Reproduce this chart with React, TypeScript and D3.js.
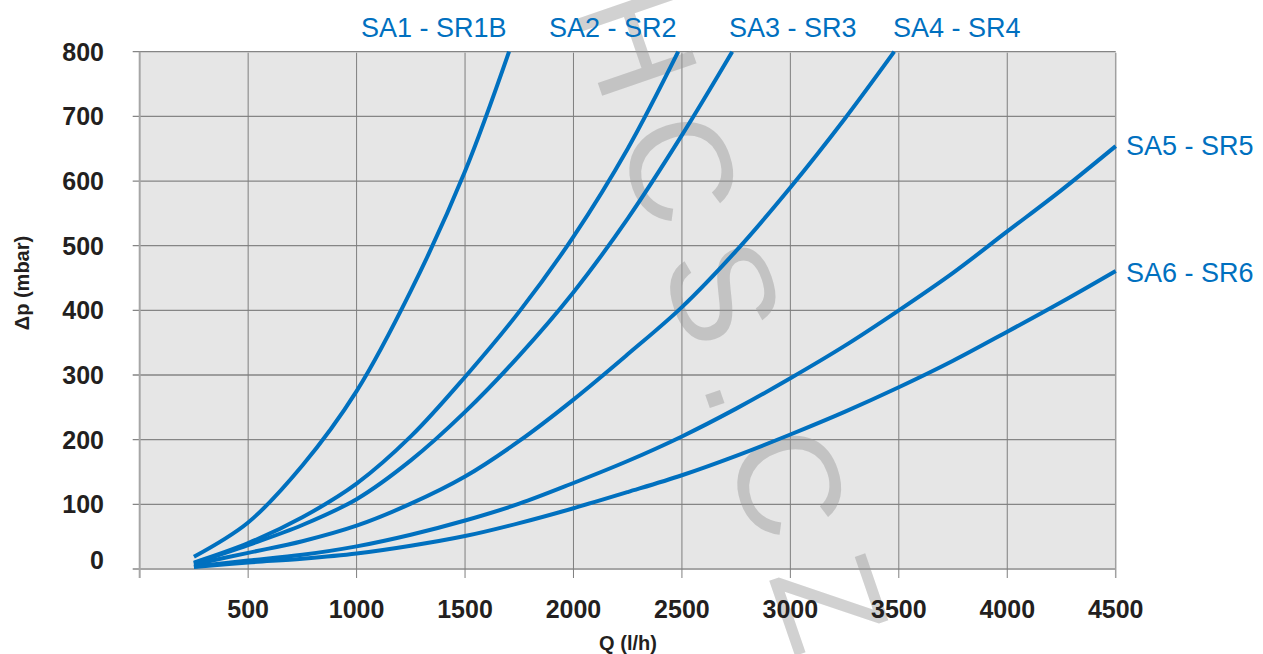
import React, { useEffect, useRef } from 'react';
import * as d3 from 'd3';

// Q (l/h) vs Δp (mbar)
const SERIES_NAMES = ['SA1 - SR1B', 'SA2 - SR2', 'SA3 - SR3', 'SA4 - SR4', 'SA5 - SR5', 'SA6 - SR6'];

const SA1: [number, number][] = [[250, 19], [500, 72], [750, 160], [1000, 275], [1250, 430], [1500, 615], [1703, 800]];
const SA2: [number, number][] = [[250, 10], [500, 40], [750, 80], [1000, 132], [1250, 205], [1500, 297], [1750, 398], [2000, 514], [2250, 650], [2483, 800]];
const SA3: [number, number][] = [[250, 9], [500, 37], [750, 68], [1000, 108], [1250, 168], [1500, 243], [1750, 330], [2000, 428], [2250, 542], [2500, 671], [2732, 800]];
const SA4: [number, number][] = [[250, 7], [500, 25], [750, 43], [1000, 67], [1250, 101], [1500, 143], [1750, 198], [2000, 262], [2250, 332], [2500, 405], [2750, 492], [3000, 590], [3250, 696], [3479, 800]];
const SA5: [number, number][] = [[250, 4], [500, 13], [750, 22], [1000, 35], [1250, 53], [1500, 75], [1750, 101], [2000, 133], [2250, 167], [2500, 205], [2750, 248], [3000, 295], [3250, 345], [3500, 400], [3750, 458], [4000, 522], [4250, 586], [4500, 654]];
const SA6: [number, number][] = [[250, 3], [500, 10], [750, 16], [1000, 24], [1250, 36], [1500, 51], [1750, 71], [2000, 94], [2250, 119], [2500, 145], [2750, 175], [3000, 208], [3250, 243], [3500, 281], [3750, 322], [4000, 367], [4250, 413], [4500, 461]];

const SERIES = [SA1, SA2, SA3, SA4, SA5, SA6];

const X_TICKS = [500, 1000, 1500, 2000, 2500, 3000, 3500, 4000, 4500];
const Y_TICKS = [0, 100, 200, 300, 400, 500, 600, 700, 800];

// where each curve label sits (pixels)
const LABEL_POS = [[361, 37], [549, 37], [729, 37], [893, 37], [1126, 155], [1126, 282]];

const BLUE = '#0070bf';
const FONT = '"Liberation Sans", Arial, Helvetica, sans-serif';

const App = () => {
  const svgRef = useRef<SVGSVGElement>(null);
  const width = 1263;
  const height = 654;

  useEffect(() => {
    const svg = d3.select(svgRef.current);
    svg.selectAll('*').remove();

    const x = d3.scaleLinear().domain([0, 4500]).range([139.7, 1115.7]);
    const y = d3.scaleLinear().domain([0, 800]).range([569, 51.7]);

    // plot background
    svg.append('rect')
      .attr('x', x(0))
      .attr('y', y(800))
      .attr('width', x(4500) - x(0))
      .attr('height', y(0) - y(800))
      .attr('fill', '#e6e6e6');

    // horizontal grid + ticks
    svg.append('g')
      .selectAll('line')
      .data(Y_TICKS)
      .enter()
      .append('line')
      .attr('x1', x(0) - 7)
      .attr('x2', x(4500))
      .attr('y1', d => y(d))
      .attr('y2', d => y(d))
      .attr('stroke', d => (d === 0 ? '#a6a6a6' : '#858585'))
      .attr('stroke-width', d => (d === 0 ? 2 : 1.3));

    // vertical grid + ticks
    svg.append('g')
      .selectAll('line')
      .data(X_TICKS)
      .enter()
      .append('line')
      .attr('x1', d => x(d))
      .attr('x2', d => x(d))
      .attr('y1', y(800) + 1)
      .attr('y2', y(0) + 9)
      .attr('stroke', d => (d === 4500 ? '#a0a0a0' : '#7f7f7f'))
      .attr('stroke-width', d => (d === 4500 ? 1.5 : 1));

    // left axis
    svg.append('line')
      .attr('x1', x(0)).attr('x2', x(0))
      .attr('y1', y(800)).attr('y2', y(0) + 9)
      .attr('stroke', '#a6a6a6')
      .attr('stroke-width', 2);

    // watermark
    svg.append('text')
      .attr('transform', 'translate(572,8) rotate(71)')
      .attr('font-family', FONT)
      .attr('font-size', 145)
      .attr('letter-spacing', 30)
      .attr('fill', '#9a9a9a')
      .attr('fill-opacity', 0.45)
      .text('HCS.CZ');

    // curves
    const line = d3.line<[number, number]>()
      .x(d => x(d[0]))
      .y(d => y(d[1]))
      .curve(d3.curveCatmullRom.alpha(0.5));

    svg.append('g')
      .selectAll('path')
      .data(SERIES)
      .enter()
      .append('path')
      .attr('d', d => line(d))
      .attr('fill', 'none')
      .attr('stroke', BLUE)
      .attr('stroke-width', 4);

    // y tick labels
    svg.append('g')
      .selectAll('text')
      .data(Y_TICKS)
      .enter()
      .append('text')
      .attr('x', 104)
      .attr('y', d => y(d) + (d === 0 ? -9 : 0))
      .attr('dy', '0.36em')
      .attr('text-anchor', 'end')
      .attr('font-family', FONT)
      .attr('font-weight', 'bold')
      .attr('font-size', 25)
      .attr('fill', '#231f20')
      .text(d => d);

    // x tick labels
    svg.append('g')
      .selectAll('text')
      .data(X_TICKS)
      .enter()
      .append('text')
      .attr('x', d => x(d))
      .attr('y', 609)
      .attr('dy', '0.36em')
      .attr('text-anchor', 'middle')
      .attr('font-family', FONT)
      .attr('font-weight', 'bold')
      .attr('font-size', 25)
      .attr('fill', '#231f20')
      .text(d => d);

    // axis titles
    svg.append('text')
      .attr('x', 628)
      .attr('y', 650)
      .attr('text-anchor', 'middle')
      .attr('font-family', FONT)
      .attr('font-weight', 'bold')
      .attr('font-size', 20)
      .attr('fill', '#231f20')
      .text('Q (l/h)');

    svg.append('text')
      .attr('transform', 'translate(29,283) rotate(-90)')
      .attr('text-anchor', 'middle')
      .attr('font-family', FONT)
      .attr('font-weight', 'bold')
      .attr('font-size', 20)
      .attr('fill', '#231f20')
      .text('Δp (mbar)');

    // series labels
    svg.append('g')
      .selectAll('text')
      .data(SERIES_NAMES)
      .enter()
      .append('text')
      .attr('x', (d, i) => LABEL_POS[i][0])
      .attr('y', (d, i) => LABEL_POS[i][1])
      .attr('font-family', FONT)
      .attr('font-size', 27)
      .attr('fill', BLUE)
      .text(d => d);
  }, []);

  return (
    <svg
      ref={svgRef}
      width={width}
      height={height}
      style={{ position: 'absolute', left: 0, top: 0, background: '#fff' }}
    />
  );
};

export default App;
